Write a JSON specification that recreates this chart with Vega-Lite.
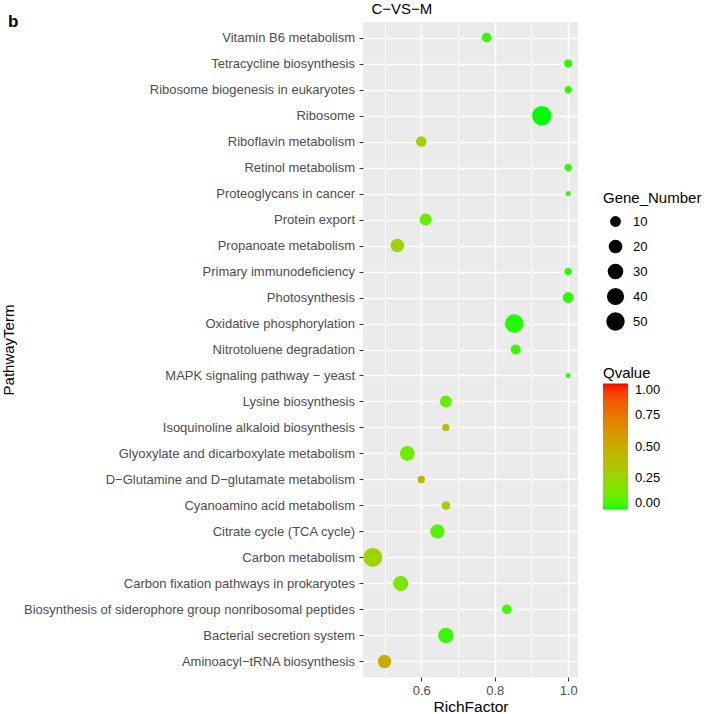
{
  "$schema": "https://vega.github.io/schema/vega-lite/v6.json",
  "width": 215,
  "height": 655,
  "autosize": {"type": "none"},
  "padding": {"left": 363, "top": 22, "right": 130, "bottom": 37},
  "background": "white",
  "config": {
    "font": "Liberation Sans",
    "view": {"fill": "#EBEBEB", "stroke": null},
    "axis": {"labelFont": "Liberation Sans", "titleFont": "Liberation Sans"},
    "legend": {"labelFont": "Liberation Sans", "titleFont": "Liberation Sans"}
  },
  "title": {
    "text": "b",
    "anchor": "start",
    "frame": "group",
    "dx": -355,
    "dy": 23,
    "offset": -20,
    "baseline": "alphabetic",
    "fontSize": 17,
    "fontWeight": "bold",
    "color": "black",
    "font": "Liberation Sans"
  },
  "data": {
    "values": [
      {"term": "Vitamin B6 metabolism", "RichFactor": 0.778, "GeneNumber": 7, "Qvalue": 0.03},
      {"term": "Tetracycline biosynthesis", "RichFactor": 1.0, "GeneNumber": 4, "Qvalue": 0.02},
      {"term": "Ribosome biogenesis in eukaryotes", "RichFactor": 1.0, "GeneNumber": 3, "Qvalue": 0.02},
      {"term": "Ribosome", "RichFactor": 0.928, "GeneNumber": 58, "Qvalue": 0.0},
      {"term": "Riboflavin metabolism", "RichFactor": 0.6, "GeneNumber": 9, "Qvalue": 0.28},
      {"term": "Retinol metabolism", "RichFactor": 1.0, "GeneNumber": 3, "Qvalue": 0.02},
      {"term": "Proteoglycans in cancer", "RichFactor": 1.0, "GeneNumber": 1, "Qvalue": 0.02},
      {"term": "Protein export", "RichFactor": 0.612, "GeneNumber": 13, "Qvalue": 0.1},
      {"term": "Propanoate metabolism", "RichFactor": 0.535, "GeneNumber": 20, "Qvalue": 0.27},
      {"term": "Primary immunodeficiency", "RichFactor": 1.0, "GeneNumber": 3, "Qvalue": 0.02},
      {"term": "Photosynthesis", "RichFactor": 1.0, "GeneNumber": 10, "Qvalue": 0.02},
      {"term": "Oxidative phosphorylation", "RichFactor": 0.853, "GeneNumber": 50, "Qvalue": 0.01},
      {"term": "Nitrotoluene degradation", "RichFactor": 0.857, "GeneNumber": 8, "Qvalue": 0.03},
      {"term": "MAPK signaling pathway − yeast", "RichFactor": 1.0, "GeneNumber": 1, "Qvalue": 0.03},
      {"term": "Lysine biosynthesis", "RichFactor": 0.667, "GeneNumber": 13, "Qvalue": 0.1},
      {"term": "Isoquinoline alkaloid biosynthesis", "RichFactor": 0.667, "GeneNumber": 3, "Qvalue": 0.4},
      {"term": "Glyoxylate and dicarboxylate metabolism", "RichFactor": 0.562, "GeneNumber": 25, "Qvalue": 0.12},
      {"term": "D−Glutamine and D−glutamate metabolism", "RichFactor": 0.6, "GeneNumber": 3, "Qvalue": 0.45},
      {"term": "Cyanoamino acid metabolism", "RichFactor": 0.667, "GeneNumber": 5, "Qvalue": 0.3},
      {"term": "Citrate cycle (TCA cycle)", "RichFactor": 0.644, "GeneNumber": 23, "Qvalue": 0.07},
      {"term": "Carbon metabolism", "RichFactor": 0.468, "GeneNumber": 54, "Qvalue": 0.27},
      {"term": "Carbon fixation pathways in prokaryotes", "RichFactor": 0.544, "GeneNumber": 27, "Qvalue": 0.15},
      {"term": "Biosynthesis of siderophore group nonribosomal peptides", "RichFactor": 0.833, "GeneNumber": 7, "Qvalue": 0.04},
      {"term": "Bacterial secretion system", "RichFactor": 0.667, "GeneNumber": 29, "Qvalue": 0.03},
      {"term": "Aminoacyl−tRNA biosynthesis", "RichFactor": 0.5, "GeneNumber": 19, "Qvalue": 0.5}
    ]
  },
  "layer": [
    {
      "mark": {"type": "circle", "opacity": 1, "strokeWidth": 0},
      "encoding": {
        "x": {
          "field": "RichFactor",
          "type": "quantitative",
          "scale": {"domain": [0.4414, 1.0266], "nice": false, "zero": false},
          "axis": {
            "orient": "bottom",
            "values": [0.6, 0.8, 1.0],
            "format": ".1f",
            "title": "RichFactor",
            "grid": true,
            "gridColor": "white",
            "gridWidth": 1.6,
            "domain": false,
            "tickColor": "#333333",
            "tickSize": 4,
            "tickWidth": 1,
            "labelPadding": 3,
            "labelFontSize": 13,
            "labelColor": "#4D4D4D",
            "titleFontSize": 15.5,
            "titleFontWeight": "normal",
            "titleColor": "black",
            "titleBaseline": "alphabetic",
            "titleY": 34
          }
        },
        "y": {
          "field": "term",
          "type": "nominal",
          "sort": [
            "Vitamin B6 metabolism",
            "Tetracycline biosynthesis",
            "Ribosome biogenesis in eukaryotes",
            "Ribosome",
            "Riboflavin metabolism",
            "Retinol metabolism",
            "Proteoglycans in cancer",
            "Protein export",
            "Propanoate metabolism",
            "Primary immunodeficiency",
            "Photosynthesis",
            "Oxidative phosphorylation",
            "Nitrotoluene degradation",
            "MAPK signaling pathway − yeast",
            "Lysine biosynthesis",
            "Isoquinoline alkaloid biosynthesis",
            "Glyoxylate and dicarboxylate metabolism",
            "D−Glutamine and D−glutamate metabolism",
            "Cyanoamino acid metabolism",
            "Citrate cycle (TCA cycle)",
            "Carbon metabolism",
            "Carbon fixation pathways in prokaryotes",
            "Biosynthesis of siderophore group nonribosomal peptides",
            "Bacterial secretion system",
            "Aminoacyl−tRNA biosynthesis"
          ],
          "scale": {"type": "point", "padding": 0.6},
          "axis": {
            "title": "PathwayTerm",
            "grid": true,
            "gridColor": "white",
            "gridWidth": 1.6,
            "domain": false,
            "tickColor": "#333333",
            "tickSize": 4,
            "tickWidth": 1,
            "labelPadding": 4.5,
            "labelFontSize": 13,
            "labelColor": "#4D4D4D",
            "labelLimit": 400,
            "titleFontSize": 15,
            "titleFontWeight": "normal",
            "titleColor": "black",
            "titleAngle": -90,
            "titleBaseline": "alphabetic",
            "titleAlign": "center",
            "titleX": -350,
            "titleY": 327.5
          }
        },
        "size": {
          "field": "GeneNumber",
          "type": "quantitative",
          "scale": {"type": "pow", "exponent": 0.65, "domain": [1, 58], "range": [25, 374], "zero": false},
          "legend": {
            "orient": "none",
            "legendX": 240,
            "legendY": 169,
            "title": "Gene_Number",
            "values": [10, 20, 30, 40, 50],
            "symbolType": "circle",
            "symbolFillColor": "black",
            "symbolStrokeWidth": 0,
            "symbolOffset": 3,
            "clipHeight": 25,
            "rowPadding": 0,
            "labelOffset": 8,
            "labelFontSize": 13,
            "labelColor": "black",
            "titleFontSize": 15,
            "titleFontWeight": "normal",
            "titleColor": "black",
            "titlePadding": 3
          }
        },
        "color": {
          "field": "Qvalue",
          "type": "quantitative",
          "scale": {"domain": [0, 1], "range": ["#00FF00", "#FF0000"], "interpolate": "lab"},
          "legend": {
            "orient": "none",
            "legendX": 240,
            "legendY": 343.5,
            "title": "Qvalue",
            "direction": "vertical",
            "values": [0, 0.25, 0.5, 0.75, 1],
            "format": ".2f",
            "gradientLength": 126,
            "gradientThickness": 25,
            "gradientStrokeWidth": 0,
            "labelFontSize": 13,
            "labelColor": "black",
            "labelOffset": 7,
            "titleFontSize": 15,
            "titleFontWeight": "normal",
            "titleColor": "black",
            "titlePadding": 3
          }
        }
      }
    },
    {
      "mark": {"type": "point", "opacity": 0},
      "encoding": {
        "x": {
          "field": "RichFactor",
          "type": "quantitative",
          "axis": {
            "orient": "top",
            "values": [0.5, 0.7, 0.9],
            "labels": false,
            "ticks": false,
            "domain": false,
            "grid": true,
            "gridColor": "white",
            "gridWidth": 0.8,
            "title": "C−VS−M",
            "titleFontSize": 15,
            "titleFontWeight": "normal",
            "titleColor": "black",
            "titleAlign": "left",
            "titleBaseline": "alphabetic",
            "titleX": 8,
            "titleY": -9
          }
        }
      }
    }
  ],
  "resolve": {"axis": {"x": "independent"}}
}
